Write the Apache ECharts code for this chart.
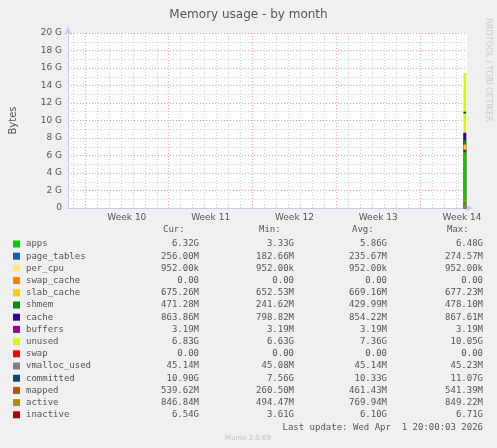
<!DOCTYPE html>
<html>
<head>
<meta charset="utf-8">
<script src="https://cdn.jsdelivr.net/npm/echarts@6/dist/echarts.min.js"></script>
<style>
  html, body { margin: 0; padding: 0; background: #f0f0f0; }
  #main { width: 497px; height: 448px; }
</style>
</head>
<body>
<div id="main"></div>
<script>
// x axis is in days; week boundaries fall on multiples of 7
const dayLines = [6, 8, 9, 10, 11, 12, 13, 15, 16, 17, 18, 19, 20, 22, 23, 24, 25, 26, 27, 29, 30, 31, 32, 33, 34, 36, 37, 38];
const weekLines = [7, 14, 21, 28, 35];
const weekLabelPos = [10.5, 17.5, 24.5, 31.5, 38.5];
const weekLabels = ['Week 10', 'Week 11', 'Week 12', 'Week 13', 'Week 14'];

// only the last few hours have data
const sampleDays = [38.62, 38.85];

const names = ['apps', 'page_tables', 'per_cpu', 'swap_cache', 'slab_cache', 'shmem', 'cache', 'buffers', 'unused',
  'swap', 'vmalloc_used', 'committed', 'mapped', 'active', 'inactive'];
const colors = ['#00CC00', '#0066B3', '#FFE680', '#FF8000', '#FFCC00', '#008F00', '#330099', '#990099', '#CCFF00',
  '#FF0000', '#808080', '#00487D', '#B35A00', '#B38F00', '#B30000'];
const stacked = [true, true, true, true, true, true, true, true, true, false, false, false, false, false, false];
// current values in G, used to draw
const curValues = [6.32, 0.256, 0.00095, 0, 0.675, 0.471, 0.864, 0.0032, 6.83, 0, 0.045, 10.9, 0.54, 0.847, 6.54];

const curText = ['6.32G', '256.00M', '952.00k', '0.00', '675.26M', '471.28M', '863.86M', '3.19M', '6.83G', '0.00', '45.14M', '10.90G', '539.62M', '846.84M', '6.54G'];
const minText = ['3.33G', '182.66M', '952.00k', '0.00', '652.53M', '241.62M', '798.82M', '3.19M', '6.63G', '0.00', '45.08M', '7.56G', '260.50M', '494.47M', '3.61G'];
const avgText = ['5.86G', '235.67M', '952.00k', '0.00', '669.16M', '429.99M', '854.22M', '3.19M', '7.36G', '0.00', '45.14M', '10.33G', '461.43M', '769.94M', '6.10G'];
const maxText = ['6.48G', '274.57M', '952.00k', '0.00', '677.23M', '478.10M', '867.61M', '3.19M', '10.05G', '0.00', '45.23M', '11.07G', '541.39M', '849.22M', '6.71G'];

const chart = echarts.init(document.getElementById('main'));
const mono = 'DejaVu Sans Mono';

// running total for the stacked areas
let total = 0;
const series = names.map((n, i) => {
  if (stacked[i]) {
    total += curValues[i];
    return {
      name: n, type: 'line', symbol: 'none', animation: false,
      data: sampleDays.map(d => [d, total]),
      lineStyle: { width: 0 },
      areaStyle: { color: colors[i], opacity: 1 },
      z: 20 - i
    };
  }
  return {
    name: n, type: 'line', symbol: 'none', animation: false,
    data: sampleDays.map(d => [d, curValues[i]]),
    lineStyle: { color: colors[i], width: 2 },
    z: 30
  };
});

// grid lines drawn through the axis scale
series.push({
  type: 'line', data: [], silent: true,
  markLine: {
    symbol: 'none', silent: true, animation: false, label: { show: false },
    data: dayLines.map(d => ({ xAxis: d, lineStyle: { color: '#d0d0d0', type: [1, 2], width: 1 } }))
      .concat(weekLines.map(d => ({ xAxis: d, lineStyle: { color: '#f0a0a0', type: [1, 2], width: 1 } })))
  }
});

const graphics = [];
const rowY = 244, rowH = 12.2;
[['Cur:', 163], ['Min:', 259], ['Avg:', 352], ['Max:', 447]].forEach(([t, x]) => {
  graphics.push({ type: 'text', left: x, top: 225, style: { text: t, font: '9px ' + mono, fill: '#555' } });
});
names.forEach((n, i) => {
  const y = rowY + i * rowH;
  graphics.push({ type: 'rect', shape: { x: 13, y: y - 3.5, width: 7, height: 7 }, style: { fill: colors[i] } });
  graphics.push({ type: 'text', x: 26, y: y, style: { text: n, font: '9px ' + mono, fill: '#555', textVerticalAlign: 'middle' } });
  [[curText, 199], [minText, 294], [avgText, 387], [maxText, 483]].forEach(([arr, x]) => {
    graphics.push({ type: 'text', x: x, y: y, style: { text: arr[i], font: '9px ' + mono, fill: '#555', textAlign: 'right', textVerticalAlign: 'middle' } });
  });
});
graphics.push({ type: 'text', x: 483, y: 428, style: { text: 'Last update: Wed Apr  1 20:00:03 2026', font: '9px ' + mono, fill: '#555', textAlign: 'right', textVerticalAlign: 'middle' } });
graphics.push({ type: 'text', x: 248, y: 438, style: { text: 'Munin 2.0.69', font: '7px DejaVu Sans', fill: '#c0c0c0', textAlign: 'center', textVerticalAlign: 'middle' } });
graphics.push({ type: 'text', x: 488, y: 70, rotation: -Math.PI / 2, style: { text: 'RRDTOOL / TOBI OETIKER', font: '8px DejaVu Sans', fill: '#c8c8c8', textAlign: 'center', textVerticalAlign: 'middle' } });

chart.setOption({
  backgroundColor: '#f0f0f0',
  animation: false,
  title: {
    text: 'Memory usage - by month', left: 'center', top: 4,
    textStyle: { fontFamily: 'DejaVu Sans', fontSize: 12, fontWeight: 'normal', color: '#555' }
  },
  grid: { left: 67, right: 30, top: 33, height: 175, backgroundColor: '#fff', show: true, borderWidth: 0 },
  xAxis: {
    type: 'value', min: 5.583, max: 38.917,
    axisLine: { lineStyle: { color: '#c8c8f0' }, symbol: ['none', 'arrow'], symbolSize: [6, 8], symbolOffset: [0, 6] },
    axisTick: { show: false },
    splitLine: { show: false },
    axisLabel: {
      customValues: weekLabelPos,
      formatter: v => weekLabels[weekLabelPos.indexOf(v)],
      color: '#555', fontFamily: 'DejaVu Sans', fontSize: 9, margin: 5, hideOverlap: false
    }
  },
  yAxis: {
    type: 'value', min: 0, max: 20, interval: 2,
    name: 'Bytes', nameLocation: 'middle', nameGap: 50, nameRotate: 90,
    nameTextStyle: { color: '#555', fontFamily: 'DejaVu Sans', fontSize: 10 },
    axisLine: { show: true, lineStyle: { color: '#c8c8f0' }, symbol: ['none', 'arrow'], symbolSize: [6, 8], symbolOffset: [0, 6] },
    axisTick: { show: false },
    axisLabel: { formatter: v => v === 0 ? '0' : v + ' G', color: '#555', fontFamily: 'DejaVu Sans', fontSize: 9, margin: 6 },
    splitLine: { lineStyle: { color: '#f0a0a0', type: [1, 2] } },
    minorTick: { show: false, splitNumber: 2 },
    minorSplitLine: { show: true, lineStyle: { color: '#d0d0d0', type: [1, 2] } }
  },
  series: series,
  graphic: graphics
});
</script>
</body>
</html>
